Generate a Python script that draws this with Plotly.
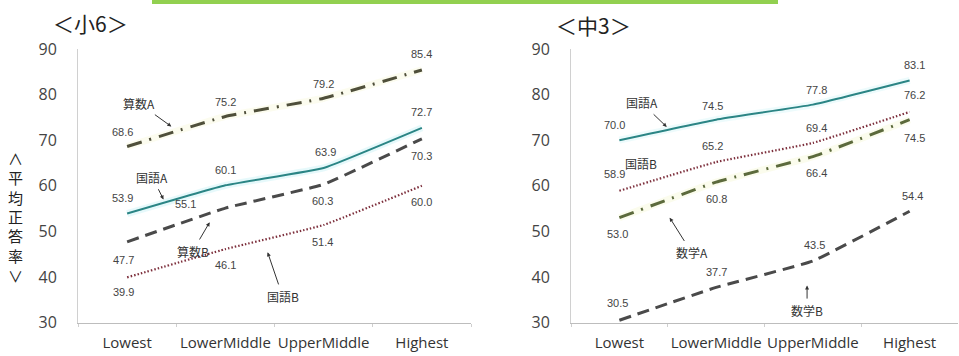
import plotly.graph_objects as go

categories = ["Lowest", "LowerMiddle", "UpperMiddle", "Highest"]

# <小6>
e_sansuA = [68.6, 75.2, 79.2, 85.4]
e_kokugoA = [53.9, 60.1, 63.9, 72.7]
e_sansuB = [47.7, 55.1, 60.3, 70.3]
e_kokugoB = [39.9, 46.1, 51.4, 60.0]

# <中3>
j_kokugoA = [70.0, 74.5, 77.8, 83.1]
j_kokugoB = [58.9, 65.2, 69.4, 76.2]
j_sugakuA = [53.0, 60.8, 66.4, 74.5]
j_sugakuB = [30.5, 37.7, 43.5, 54.4]

yticks = [30, 40, 50, 60, 70, 80, 90]

W, H = 959, 356
fig = go.Figure()

TEAL = "#2b8585"
OLIVE = "#4f4f3a"
OLIVE2 = "#5c6a3c"
GRAYD = "#4a4a4a"
MAROON = "#7d2f3c"


def add_series(vals, xa, ya, color, dash, width, glow=None):
    if glow:
        fig.add_trace(go.Scatter(x=categories, y=vals, mode="lines", xaxis=xa, yaxis=ya,
                                 line=dict(color=glow, width=7, shape="spline", smoothing=0.3),
                                 hoverinfo="skip", showlegend=False))
    fig.add_trace(go.Scatter(x=categories, y=vals, mode="lines", xaxis=xa, yaxis=ya,
                             line=dict(color=color, width=width, dash=dash, shape="spline", smoothing=0.3),
                             showlegend=False))


DASHDOT = "15px,8px,2px,8px"
DASH = "12px,7px"
DOT = "1.5px,2px"

add_series(e_sansuA, "x", "y", OLIVE, DASHDOT, 3, glow="rgba(250,250,228,0.6)")
add_series(e_kokugoA, "x", "y", TEAL, "solid", 2, glow="rgba(205,243,248,0.5)")
add_series(e_sansuB, "x", "y", GRAYD, DASH, 3)
add_series(e_kokugoB, "x", "y", MAROON, DOT, 2.2)

add_series(j_kokugoA, "x2", "y2", TEAL, "solid", 2, glow="rgba(210,244,248,0.4)")
add_series(j_kokugoB, "x2", "y2", MAROON, DOT, 2.2)
add_series(j_sugakuA, "x2", "y2", OLIVE2, DASHDOT, 3, glow="rgba(248,250,225,0.6)")
add_series(j_sugakuB, "x2", "y2", GRAYD, DASH, 3)

ann = []
LBL = dict(size=11, color="#444", family="Liberation Sans")

# data labels: (values, axis, dx list, dy list)
label_specs = [
    (e_sansuA, "x", "y", [-5, 0, 0, 0], [15, 14, 14, 16]),
    (e_kokugoA, "x", "y", [-5, 0, 2, 0], [16, 15, 16, 16]),
    (e_sansuB, "x", "y", [-4, -40, -1, 0], [-18, 4, -17, -17]),
    (e_kokugoB, "x", "y", [-4, 0, -1, 0], [-15, -16, -17, -16]),
    (j_kokugoA, "x2", "y2", [-5, -4, 4, 5], [15, 14, 15, 15]),
    (j_kokugoB, "x2", "y2", [-5, -4, 4, 5], [17, 16, 15, 17]),
    (j_sugakuA, "x2", "y2", [-2, 0, 4, 5], [-16, -17, -16, -18]),
    (j_sugakuB, "x2", "y2", [-2, 0, 2, 3], [17, 15, 16, 15]),
]
for vals, xa, ya, dxs, dys in label_specs:
    for i, v in enumerate(vals):
        ann.append(dict(x=i, y=v, xref=xa, yref=ya, text=f"{v:.1f}", showarrow=False,
                        xshift=dxs[i], yshift=dys[i], font=LBL))

# series names with arrows
NAMEF = dict(size=12, color="#333", family="Noto Sans CJK JP")
name_specs = [
    ("算数A", "x", "y", 0.45, 73.0, -32, -23),
    ("国語A", "x", "y", 0.37, 57.0, -11, -22),
    ("算数B", "x", "y", 0.84, 52.0, -17, 29),
    ("国語B", "x", "y", 1.43, 45.4, 15, 44),
    ("国語A", "x2", "y2", 0.49, 72.9, -25, -24),
    ("国語B", "x2", "y2", 0.41, 62.6, -18, -10),
    ("数学A", "x2", "y2", 0.52, 53.0, 22, 35),
    ("数学B", "x2", "y2", 1.94, 38.1, 0, 25),
]
for t, xa, ya, x, y, ax, ay in name_specs:
    ann.append(dict(x=x, y=y, xref=xa, yref=ya, text=t, showarrow=True, ax=ax, ay=ay,
                    arrowhead=2, arrowsize=0.8, arrowwidth=1, arrowcolor="#333",
                    standoff=0, startstandoff=2, font=NAMEF))

# titles
TITF = dict(size=21, color="#222", family="Noto Sans CJK JP")
ann.append(dict(x=90 / W, y=1 - 23 / H, xref="paper", yref="paper", text="＜小6＞",
                xanchor="center", yanchor="middle", showarrow=False, font=TITF))
ann.append(dict(x=593 / W, y=1 - 25 / H, xref="paper", yref="paper", text="＜中3＞",
                xanchor="center", yanchor="middle", showarrow=False, font=TITF))
# y-axis title (vertical, one char per annotation)
ytitle_chars = ["∧", "平", "均", "正", "答", "率", "∨"]
for k, ch in enumerate(ytitle_chars):
    ann.append(dict(x=15 / W, y=1 - (158 + 19.5 * k) / H, xref="paper", yref="paper",
                    text=ch, showarrow=False, xanchor="center", yanchor="middle",
                    height=17, borderpad=0,
                    font=dict(size=15, color="#222", family="Noto Sans CJK JP")))

shapes = [dict(type="rect", xref="paper", yref="paper", x0=152 / W, x1=778 / W,
               y0=1 - 4 / H, y1=1, fillcolor="#92d050", line=dict(width=0))]

ydom = [1 - 322.5 / H, 1 - 49 / H]
xcommon = dict(type="category", range=[-0.5, 3.5], showline=True, linecolor="#bdbdbd",
               linewidth=1, showgrid=False, zeroline=False, ticks="outside",
               tickson="boundaries", ticklen=3, tickcolor="#cfcfcf", tickangle=0,
               automargin=False,
               tickfont=dict(size=15, color="#333", family="Open Sans"),
               ticklabelstandoff=6, fixedrange=True)
ycommon = dict(range=[30, 90], tickvals=yticks, showline=True, linecolor="#d0d0d0",
               linewidth=1, showgrid=False, zeroline=False, ticks="", automargin=False,
               tickfont=dict(size=16, color="#444", family="Open Sans"),
               ticklabelstandoff=17, domain=ydom, fixedrange=True)

fig.update_layout(
    width=W, height=H, margin=dict(l=0, r=0, t=0, b=0, autoexpand=False),
    paper_bgcolor="white", plot_bgcolor="white",
    xaxis=dict(domain=[78 / W, 471 / W], anchor="y", **xcommon),
    yaxis=dict(anchor="x", **ycommon),
    xaxis2=dict(domain=[571 / W, 958 / W], anchor="y2", **xcommon),
    yaxis2=dict(anchor="x2", **ycommon),
    annotations=ann, shapes=shapes, showlegend=False,
)

fig.write_html("out.html")
